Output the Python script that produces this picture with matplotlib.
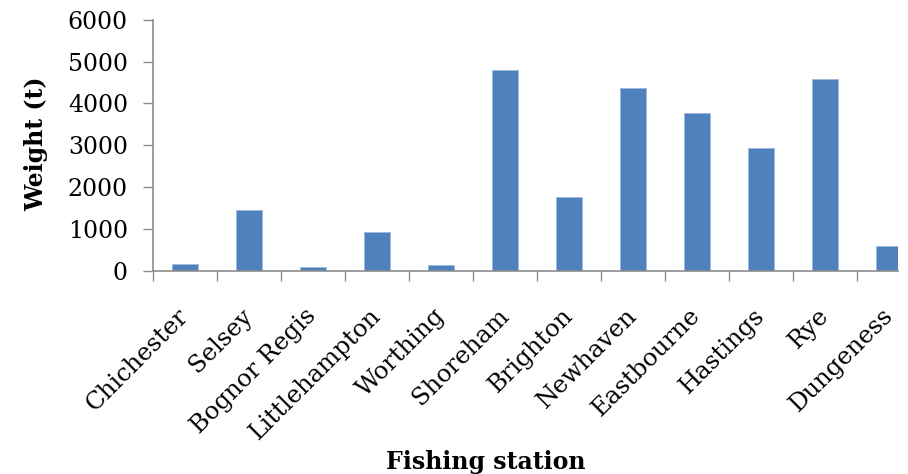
import numpy as np
import matplotlib
matplotlib.use("Agg")
import matplotlib.pyplot as plt
from matplotlib.ticker import MultipleLocator, FixedLocator

stations = ["Chichester", "Selsey", "Bognor Regis", "Littlehampton", "Worthing",
            "Shoreham", "Brighton", "Newhaven", "Eastbourne", "Hastings", "Rye",
            "Dungeness"]
weights = [150, 1450, 90, 930, 130, 4790, 1750, 4360, 3770, 2940, 4570, 580]

plt.rcParams['font.family'] = ['DejaVu Serif']
axis_grey = '#8C8C8C'

fig = plt.figure(figsize=(9.08, 4.74), dpi=100)
ax = fig.add_axes([0.1685, 0.4293, 0.8205, 0.5291])

x = np.arange(len(stations))
ax.bar(x, weights, width=0.4, color='#4F81BD', edgecolor='#9DB9DE', linewidth=0.6)

# axis ranges (plot is cut off on the right, like the original screenshot)
ax.set_xlim(-0.5, 11.14)
ax.set_ylim(0, 6000)
ax.yaxis.set_major_locator(MultipleLocator(1000))

# category labels at centres, tick marks between categories
ax.set_xticks(x)
ax.set_xticklabels(stations, rotation=45, ha='right', va='center',
                   rotation_mode='anchor', fontsize=17.5)
ax.xaxis.set_minor_locator(FixedLocator(np.arange(-0.5, len(stations), 1)))
ax.tick_params(axis='x', which='major', length=0, pad=30)
ax.tick_params(axis='x', which='minor', length=7, width=1, color=axis_grey, direction='out')
ax.tick_params(axis='y', length=7, width=1, color=axis_grey, direction='out',
               pad=11, labelsize=17)

for side in ['top', 'right']:
    ax.spines[side].set_visible(False)
for side in ['left', 'bottom']:
    ax.spines[side].set_color(axis_grey)
    ax.spines[side].set_linewidth(1.2)

# axis titles
fig.text(36 / 908, 1 - 144 / 474, 'Weight (t)', rotation=90, ha='center', va='center',
         fontsize=17, fontweight='bold')
fig.text(486 / 908, 1 - 469 / 474, 'Fishing station', ha='center', va='baseline',
         fontsize=17, fontweight='bold')

fig.savefig('out.png', dpi=100)
